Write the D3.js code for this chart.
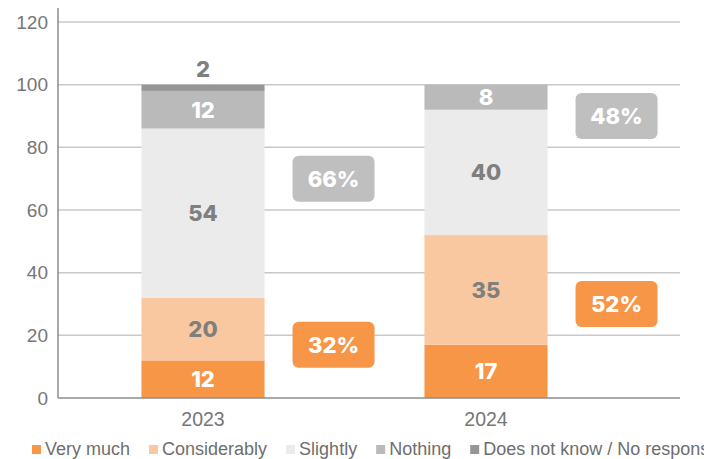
<!DOCTYPE html>
<html>
<head>
<meta charset="utf-8">
<script src="https://cdn.jsdelivr.net/npm/d3@7"></script>
<style>
  html, body { margin: 0; padding: 0; background: #fff; }
  svg { display: block; }
</style>
</head>
<body>
<svg id="chart" width="704" height="459"></svg>
<script>
// Survey answers per year (percent of respondents)
const years = ["2023", "2024"];
const seriesNames = ["Very much", "Considerably", "Slightly", "Nothing", "Does not know / No response"];
const veryMuch     = [12, 17];
const considerably = [20, 35];
const slightly     = [54, 40];
const nothing      = [12, 8];
const doesNotKnow  = [2, 0];
const yTicks = [0, 20, 40, 60, 80, 100, 120];

// Summary badges: combined shares and the axis value each badge sits at
const positiveShare = years.map((_, i) => veryMuch[i] + considerably[i]);
const negativeShare = years.map((_, i) => slightly[i] + nothing[i]);
const positiveAnchor = [17, 30];
const negativeAnchor = [70, 90];

const colors = ["#F79646", "#FAC8A0", "#EBEBEB", "#BABABA", "#969696"];
const labelColors = ["#FFFFFF", "#7F7F7F", "#7F7F7F", "#FFFFFF", "#7F7F7F"];
const badgeColors = { positive: "#F79646", negative: "#BFBFBF" };

const svg = d3.select("#chart");

const x = d3.scaleBand()
  .domain(years)
  .range([61.5, 627.5])
  .paddingInner(0.565)
  .paddingOuter(0.2825);

const y = d3.scaleLinear().domain([0, 120]).range([398, 22]);

const gridRight = 680;
const axisLeft = 58;

// Gridlines
svg.append("g")
  .selectAll("line")
  .data(yTicks.filter(t => t > 0))
  .join("line")
  .attr("x1", axisLeft).attr("x2", gridRight)
  .attr("y1", d => y(d)).attr("y2", d => y(d))
  .attr("stroke", "#C8C8C8").attr("stroke-width", 1.5);

// Y axis
const yAxis = svg.append("g")
  .attr("transform", `translate(${axisLeft},0)`)
  .call(d3.axisLeft(y).tickValues(yTicks).tickSize(0).tickPadding(10));
yAxis.select(".domain").remove();
yAxis.selectAll("text")
  .attr("font-family", "Liberation Sans, Arial, sans-serif")
  .attr("font-size", 19)
  .attr("fill", "#767676");
svg.append("line")
  .attr("x1", axisLeft).attr("x2", axisLeft)
  .attr("y1", 8).attr("y2", y(0))
  .attr("stroke", "#8C8C8C").attr("stroke-width", 1.5);

// Stacked data
const rows = years.map((yr, i) => ({
  year: yr,
  values: [veryMuch[i], considerably[i], slightly[i], nothing[i], doesNotKnow[i]]
}));
const stack = d3.stack()
  .keys(d3.range(seriesNames.length))
  .value((d, k) => d.values[k]);
const layers = stack(rows);

// Bars
const gBars = svg.append("g");
layers.forEach((layer, k) => {
  gBars.selectAll(null)
    .data(layer)
    .join("rect")
    .attr("x", d => x(d.data.year))
    .attr("width", x.bandwidth())
    .attr("y", d => y(d[1]))
    .attr("height", d => y(d[0]) - y(d[1]))
    .attr("fill", colors[k]);
});

// X axis
svg.append("line")
  .attr("x1", axisLeft).attr("x2", gridRight)
  .attr("y1", y(0)).attr("y2", y(0))
  .attr("stroke", "#8C8C8C").attr("stroke-width", 1.5);
svg.append("g")
  .selectAll("text")
  .data(years)
  .join("text")
  .attr("x", d => x(d) + x.bandwidth() / 2)
  .attr("y", 426)
  .attr("text-anchor", "middle")
  .attr("font-family", "Liberation Sans, Arial, sans-serif")
  .attr("font-size", 19.5)
  .attr("fill", "#767676")
  .text(d => d);

// Segment value labels (small segments get their label above the bar)
const labelFont = "Inter, 'Open Sans', sans-serif";
layers.forEach((layer, k) => {
  layer.forEach(d => {
    const v = d[1] - d[0];
    if (v <= 0) return;
    const small = v < 5;
    const cy = small ? y(d[1]) - 16 : y((d[0] + d[1]) / 2);
    svg.append("text")
      .attr("x", x(d.data.year) + x.bandwidth() / 2)
      .attr("y", cy)
      .attr("dy", "0.36em")
      .attr("text-anchor", "middle")
      .attr("font-family", labelFont)
      .attr("font-weight", 800)
      .attr("font-size", 22)
      .attr("fill", small ? "#7F7F7F" : labelColors[k])
      .text(v);
  });
});

// Badges with the combined shares
const badgeW = 82, badgeH = 46;
function badge(year, anchor, share, color) {
  const cx = x(year) + x.bandwidth() + 69;
  const cy = y(anchor);
  const g = svg.append("g");
  g.append("rect")
    .attr("x", cx - badgeW / 2).attr("y", cy - badgeH / 2)
    .attr("width", badgeW).attr("height", badgeH)
    .attr("rx", 6).attr("ry", 6)
    .attr("fill", color);
  g.append("text")
    .attr("x", cx).attr("y", cy)
    .attr("dy", "0.36em")
    .attr("text-anchor", "middle")
    .attr("font-family", labelFont)
    .attr("font-weight", 800)
    .attr("font-size", 22)
    .attr("fill", "#FFFFFF")
    .text(share + "%");
}
years.forEach((yr, i) => {
  badge(yr, positiveAnchor[i], positiveShare[i], badgeColors.positive);
  badge(yr, negativeAnchor[i], negativeShare[i], badgeColors.negative);
});

// Legend
const legend = svg.append("g");
let lx = 32;
seriesNames.forEach((name, k) => {
  legend.append("rect")
    .attr("x", lx).attr("y", 445)
    .attr("width", 9).attr("height", 9)
    .attr("fill", colors[k]);
  const t = legend.append("text")
    .attr("x", lx + 13).attr("y", 455)
    .attr("font-family", "Liberation Sans, Arial, sans-serif")
    .attr("font-size", 18)
    .attr("fill", "#6E6E6E")
    .text(name);
  lx += 13 + t.node().getComputedTextLength() + 19;
});
</script>
</body>
</html>
